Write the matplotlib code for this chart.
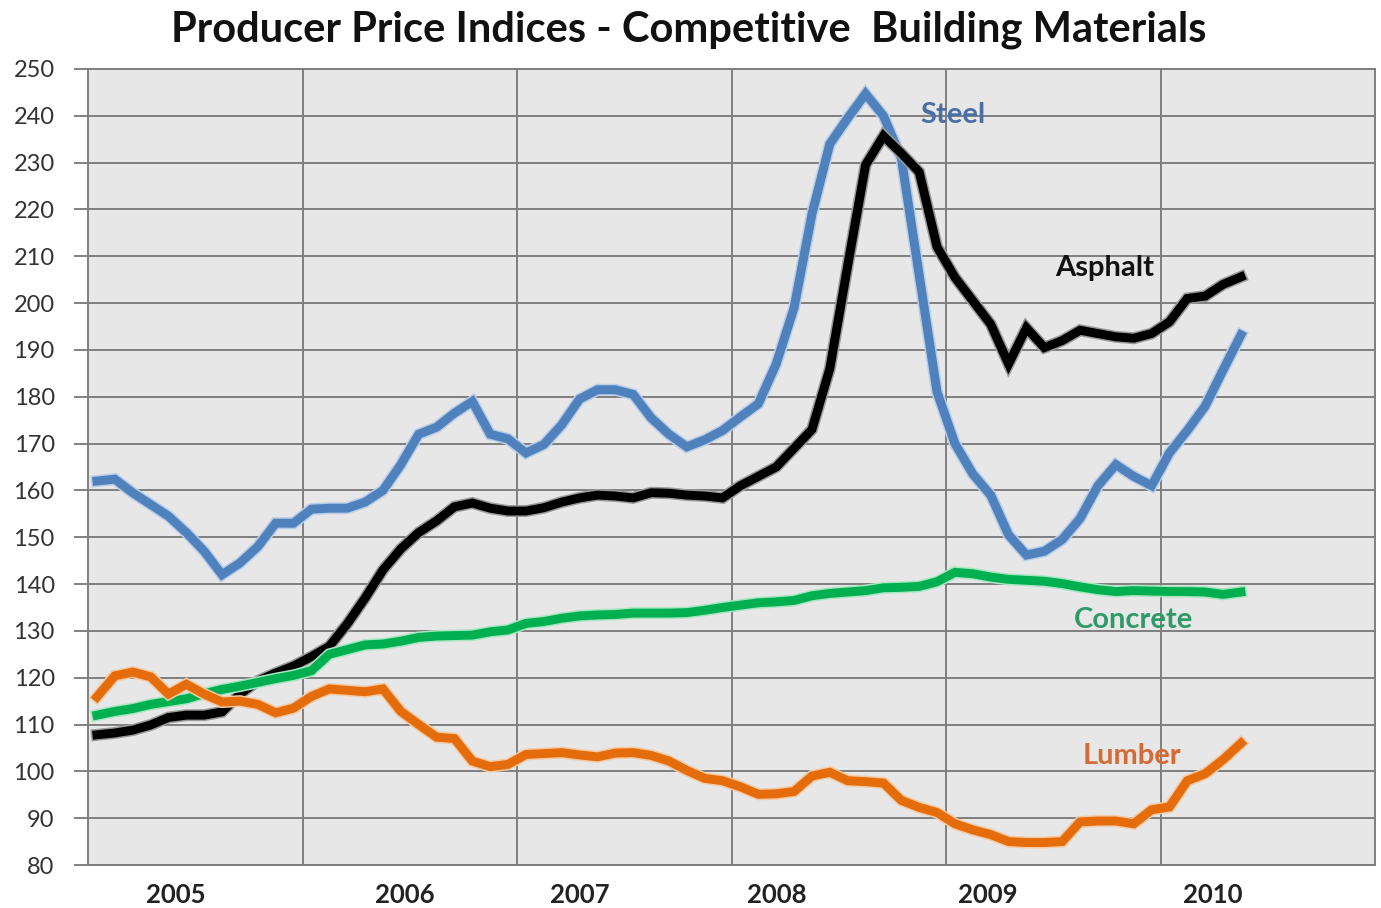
import matplotlib
matplotlib.use("Agg")
import matplotlib.pyplot as plt
import matplotlib.patheffects as pe

plt.rcParams['font.family'] = ['Lato', 'DejaVu Sans']

# monthly index values, Jan 2005 onwards
steel = [162, 162.4, 159.5, 157, 154.5, 151, 147, 142, 144.5, 148,
         153, 153, 156, 156.2, 156.2, 157.5, 160, 165.5, 172, 173.5,
         176.5, 179, 172, 171, 168, 169.8, 174, 179.5, 181.5, 181.5,
         180.5, 175.5, 172, 169.3, 170.8, 172.8, 175.7, 178.5, 187, 199,
         219, 234, 239.5, 244.7, 240, 231, 206, 181, 170, 163.5,
         159, 150.5, 146.2, 147, 149.5, 154, 161, 165.5, 163, 161,
         168, 172.8, 178, 185.7, 193.2]
asphalt = [107.8, 108.2, 108.8, 109.9, 111.5, 112, 112, 112.7, 116.5, 119.3,
           121, 122.5, 124.5, 126.7, 131.5, 137, 143, 147.5, 151, 153.5,
           156.5, 157.3, 156.2, 155.6, 155.6, 156.3, 157.5, 158.4, 159, 158.8,
           158.4, 159.5, 159.4, 159, 158.8, 158.4, 161, 163, 165, 169,
           173, 186, 208, 229.5, 235.7, 232, 228, 212, 205.5, 200.5,
           195.5, 187, 194.7, 190.5, 192, 194.2, 193.5, 192.8, 192.5, 193.5,
           196, 201, 201.5, 204, 205.6]
concrete = [112, 112.8, 113.4, 114.3, 114.9, 115.5, 116.6, 117.5, 118.2, 119,
            119.8, 120.5, 121.5, 125, 126, 127, 127.2, 127.8, 128.6, 128.9,
            129, 129.1, 129.8, 130.2, 131.6, 132, 132.7, 133.2, 133.4, 133.5,
            133.8, 133.8, 133.8, 133.9, 134.4, 135, 135.5, 136, 136.2, 136.5,
            137.5, 138, 138.3, 138.6, 139.2, 139.3, 139.5, 140.5, 142.5, 142.2,
            141.5, 141, 140.8, 140.6, 140.1, 139.4, 138.8, 138.4, 138.6, 138.5,
            138.4, 138.4, 138.3, 137.8, 138.3]
lumber = [115.9, 120.4, 121.2, 120.2, 116.5, 118.6, 116.5, 114.8, 115, 114.3,
          112.5, 113.5, 116, 117.6, 117.3, 117, 117.6, 112.8, 110, 107.3,
          107, 102.2, 101, 101.5, 103.6, 103.8, 104, 103.5, 103.1, 103.9,
          104, 103.4, 102.2, 100.2, 98.5, 98, 96.7, 95.1, 95.2, 95.7,
          99, 99.8, 98, 97.8, 97.5, 93.8, 92.3, 91.2, 88.8, 87.5,
          86.5, 85, 84.8, 84.8, 85, 89.2, 89.4, 89.4, 88.8, 91.8,
          92.4, 98, 99.5, 102.5, 106]

years = ['2005', '2006', '2007', '2008', '2009', '2010']
year_label_pos = [4.4, 17.2, 27.0, 38.05, 49.85, 62.4]
n_categories = 72

# name, values, line colour, glow colour, label colour, label x, label y
series = [
    ("Steel", steel, '#4f81bd', '#b9cde8', '#4a6ea6', 47.9, 240.2),
    ("Asphalt", asphalt, '#000000', '#9a9a9a', '#111111', 56.4, 207.5),
    ("Concrete", concrete, '#00b050', '#a8e6c2', '#2e9a68', 58.0, 132.3),
    ("Lumber", lumber, '#e46c0a', '#f6c9a3', '#d46a35', 57.9, 103.3),
]

fig = plt.figure(figsize=(13.81, 9.08), dpi=100)
ax = fig.add_axes([88 / 1381, 1 - 865 / 908, 1287 / 1381, 796 / 908])
ax.set_facecolor('#e7e7e7')

x = list(range(len(steel)))
for name, vals, col, glow, tcol, tx, ty in series:
    ax.plot(x, vals, color=col, lw=6.4, solid_joinstyle='miter', zorder=3,
            path_effects=[pe.Stroke(linewidth=8.6, foreground=glow), pe.Normal()])
    ax.text(tx, ty, name, color=tcol, fontsize=21, fontweight='bold',
            ha='center', va='center', zorder=4)

ax.set_xlim(-0.5, n_categories - 0.5)
ax.set_ylim(80, 250)
ax.set_yticks(range(80, 251, 10))

ax.set_xticks(year_label_pos)
ax.set_xticklabels(years, fontsize=18.5, fontweight='bold', color='#222222')
ax.set_xticks([i * 12 - 0.5 for i in range(1, 6)], minor=True)
ax.tick_params(axis='x', which='both', length=0, pad=13)
ax.tick_params(axis='y', length=10, width=1.4, color='#808080', pad=14,
               labelsize=17, labelcolor='#333333')

ax.grid(axis='y', which='major', color='#7f7f7f', lw=1.4)
ax.grid(axis='x', which='minor', color='#7f7f7f', lw=1.4)
ax.grid(axis='x', which='major', visible=False)
ax.set_axisbelow(True)

for side in ['left', 'bottom', 'right', 'top']:
    ax.spines[side].set_color('#7f7f7f')
    ax.spines[side].set_linewidth(1.4)

fig.text(0.499, 1 - 30 / 908, 'Producer Price Indices - Competitive  Building Materials',
         fontsize=30, fontweight='bold', color='#111111', ha='center', va='center')

fig.savefig('out.png', dpi=100)
